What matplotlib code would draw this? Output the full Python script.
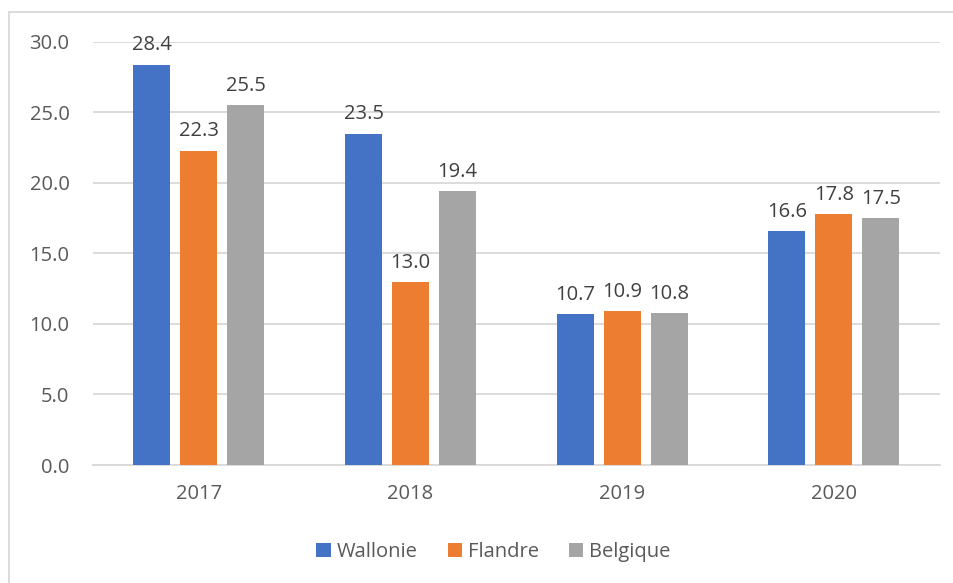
import numpy as np
import matplotlib.pyplot as plt
from matplotlib.patches import Rectangle

plt.rcParams['font.family'] = ['Open Sans', 'DejaVu Sans']

years = ['2017', '2018', '2019', '2020']
series_names = ['Wallonie', 'Flandre', 'Belgique']
wallonie = [28.4, 23.5, 10.7, 16.6]
flandre = [22.3, 13.0, 10.9, 17.8]
belgique = [25.5, 19.4, 10.8, 17.5]
colors = ['#4472C4', '#ED7D31', '#A5A5A5']

fig = plt.figure(figsize=(9.54, 5.83), dpi=100)
ax = fig.add_axes([0.0975, 0.2024, 0.8875, 0.7256])

# outer chart border (cut off on right and bottom)
fig.patches.append(Rectangle((9 / 954, -0.1), 1.2, 1.1 - 12 / 583,
                             transform=fig.transFigure, fill=False,
                             edgecolor='#d9d9d9', linewidth=1.3))

x = np.arange(len(years))
width = 0.175
step = 0.222
fs = 14.5
for i, (name, vals) in enumerate(zip(series_names, [wallonie, flandre, belgique])):
    pos = x + (i - 1) * step
    ax.bar(pos, vals, width, color=colors[i], label=name, zorder=3)
    for p, v in zip(pos, vals):
        ax.text(p, v + 0.65, f'{v:.1f}', ha='center', va='bottom',
                fontsize=fs, color='#404040')

ax.set_xlim(-0.5, 3.5)
ax.set_ylim(0, 30)
ax.set_yticks(np.arange(0, 31, 5))
ax.set_yticklabels([f'{t:.1f}' for t in np.arange(0, 31, 5)])
ax.set_xticks(x)
ax.set_xticklabels(years)
ax.grid(axis='y', color='#d9d9d9', linewidth=1.3, zorder=0)
for s in ['top', 'right', 'left']:
    ax.spines[s].set_visible(False)
ax.spines['bottom'].set_color('#d9d9d9')
ax.spines['bottom'].set_linewidth(1.3)
ax.tick_params(axis='both', length=0, labelsize=fs, colors='#595959')
ax.tick_params(axis='y', pad=17)
ax.tick_params(axis='x', pad=14)

ax.legend(loc='center', bbox_to_anchor=(0.473, -0.205), ncol=3, frameon=False,
          fontsize=fs, labelcolor='#595959', handlelength=0.7, handleheight=0.7,
          handletextpad=0.3, columnspacing=1.5)

fig.savefig('out.png', dpi=100)
